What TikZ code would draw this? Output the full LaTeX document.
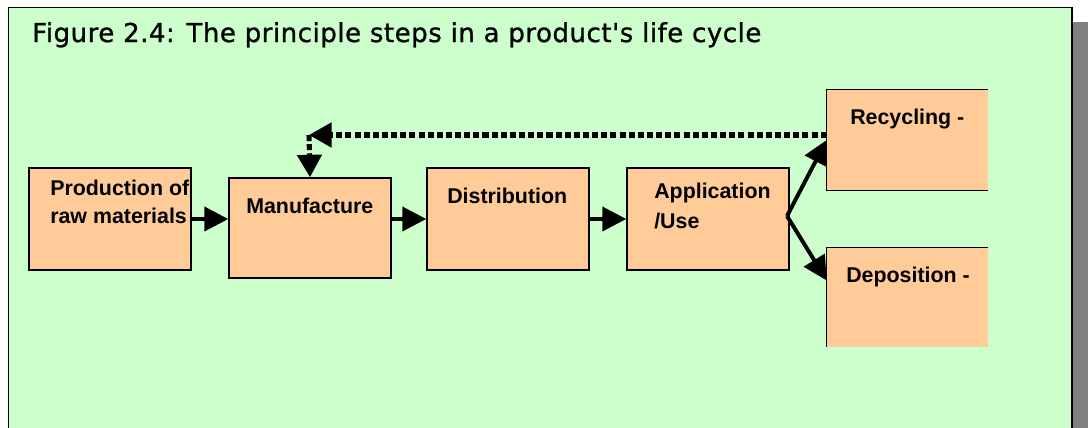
\documentclass[tikz,border=0pt]{standalone}
\usepackage{fontspec}
\setmainfont{Liberation Sans}
\newfontfamily\titlefont[LetterSpace=2,FakeBold=1]{DejaVu Sans}
\usetikzlibrary{arrows.meta,positioning,fit,calc}
\definecolor{panelgreen}{RGB}{204,255,204}
\definecolor{stepfill}{RGB}{255,204,153}
\definecolor{shadowgray}{RGB}{128,128,128}
\tikzset{
  % one unit is one pixel, y runs downwards
  every picture/.style={x=0.025cm, y=-0.025cm},
  % step boxes
  stepbox/.style={draw=black, line width=1pt, fill=stepfill, inner sep=0pt},
  cutbox/.style={fill=stepfill, inner sep=0pt},
  steptext/.style={anchor=base west, inner sep=0pt, font=\fontsize{15.2}{18}\selectfont\bfseries},
  % arrows
  arr/.style={-{Triangle[length=17pt,width=17pt]}, line width=2.8pt},
  dotarr/.style={-{Triangle[length=16pt,width=17pt]}, line width=3.6pt, dash pattern=on 4.3pt off 2.2pt},
}

\begin{document}
\begin{tikzpicture}
    \useasboundingbox (0,0) rectangle (1088,428);

    % Panel with shadow
    \fill[shadowgray] (1073,22) rectangle (1088,428);
    \fill[panelgreen] (8.5,7.5) rectangle (1072,428);
    \draw[line width=1pt] (8.5,428) -- (8.5,7.5) -- (1072,7.5) -- (1072,428);

    % Title
    \node[anchor=base west, inner sep=0pt, font=\titlefont\fontsize{18.5}{22}\selectfont] (title) at (32,42)
        {Figure 2.4: The principle steps in a product's life cycle};

    % Boxes
    \node[stepbox, fit={(29,168) (191,270)}] (prod) {};
    \node[stepbox, fit={(229,178) (391,278)}] (manu) {};
    \node[stepbox, fit={(427,168) (589,270)}] (dist) {};
    \node[stepbox, fit={(627,168) (789,270)}] (appl) {};
    \node[cutbox, fit={(827,90) (988,190)}] (recy) {};
    \node[cutbox, fit={(827,248) (988,347)}] (depo) {};
    \draw[line width=1pt] (recy.north east) -- (recy.north west) -- (recy.south west) -- (recy.south east);
    \draw[line width=1pt] (depo.north east) -- (depo.north west) -- (depo.south west);

    % Labels
    \node[steptext] (prodA) at (50,195) {Production of};
    \node[steptext] (prodB) at (50,223) {raw materials};
    \node[steptext] (manuA) at (246,213) {Manufacture};
    \node[steptext] (distA) at (447,203) {Distribution};
    \node[steptext] (applA) at (654,198) {Application};
    \node[steptext] (applB) at (654,228) {/Use};
    \node[steptext] (recyA) at (850,124) {Recycling -};
    \node[steptext] (depoA) at (846,282) {Deposition -};

    % Flow
    \draw[arr] (prod.east) -- (prod.east -| manu.west);
    \draw[arr] (manu.east |- dist.east) -- (dist.west);
    \draw[arr] (dist.east) -- (appl.west);
    \coordinate (fork) at (787,216);
    \draw[arr] (fork) -- (recy.west);
    \draw[arr] (fork) -- ($(depo.west)+(0,-17)$);

    % Feedback loop
    \coordinate (turn) at (309,135);
    \draw[dotarr] (recy.west |- turn) -- (turn);
    \draw[dotarr] (turn) -- (manu.north);
\end{tikzpicture}
\end{document}
